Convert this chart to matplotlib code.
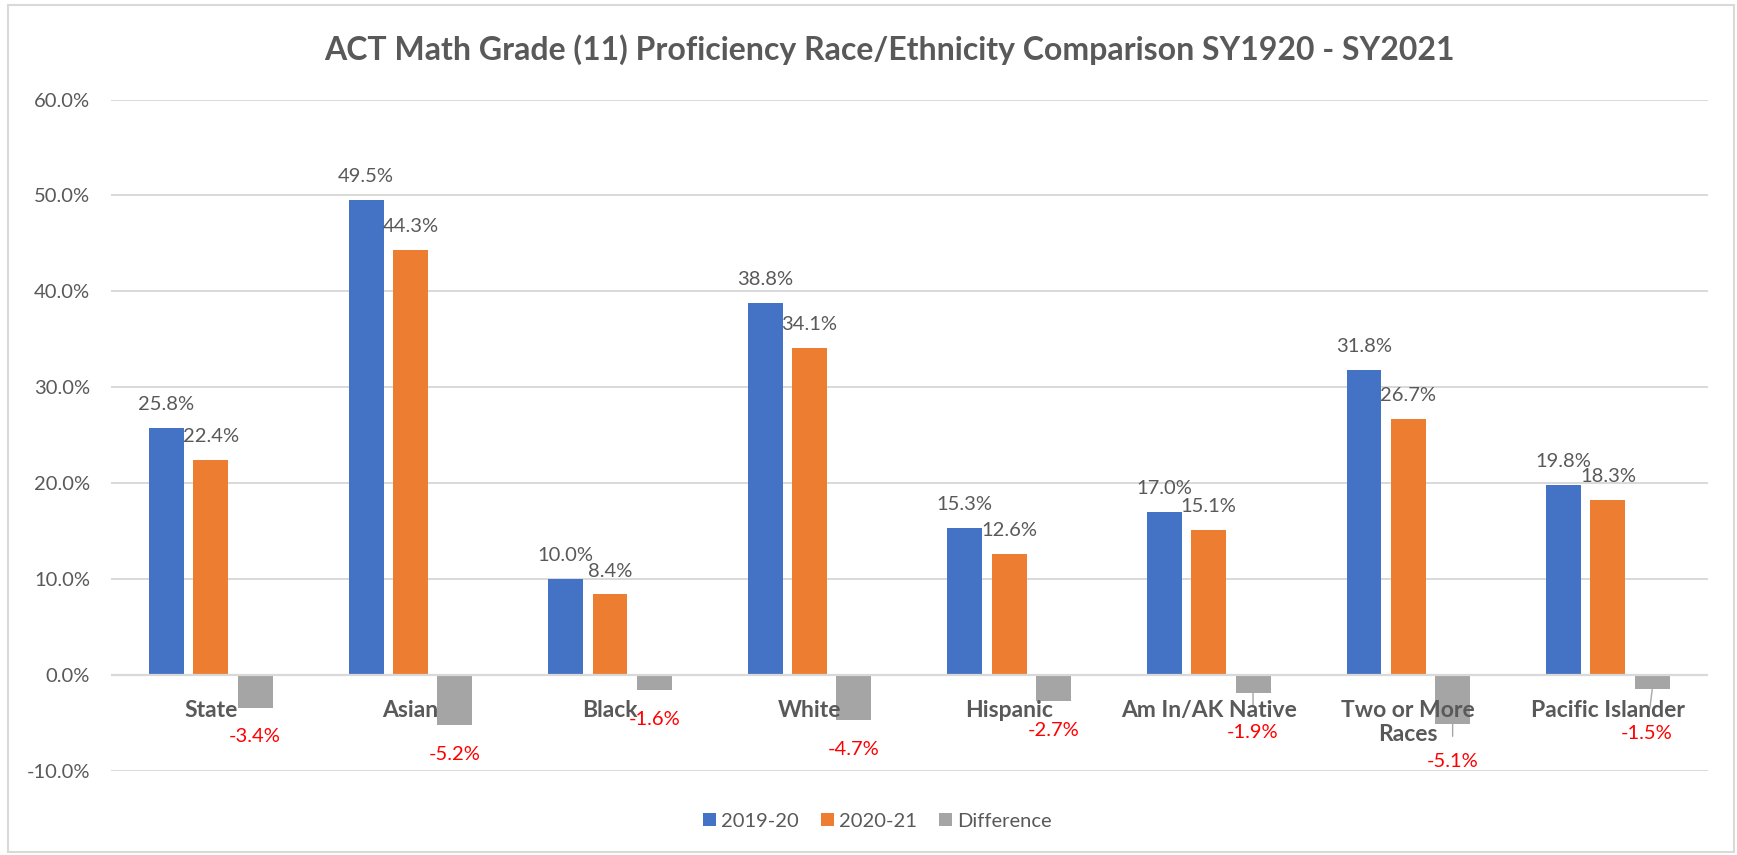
#!/usr/bin/env python3
from __future__ import annotations

import matplotlib

matplotlib.use("Agg")
import matplotlib.pyplot as plt
import numpy as np
from matplotlib.patches import Patch, Rectangle
from matplotlib.ticker import FuncFormatter

plt.rcParams["font.family"] = ["Lato", "DejaVu Sans"]

TITLE = "ACT Math Grade (11) Proficiency Race/Ethnicity Comparison SY1920 - SY2021"
CATEGORIES = [
    "State",
    "Asian",
    "Black",
    "White",
    "Hispanic",
    "Am In/AK Native",
    "Two or More\nRaces",
    "Pacific Islander",
]
SERIES_NAMES = ["2019-20", "2020-21", "Difference"]
VALUES_1920 = [0.258, 0.495, 0.100, 0.388, 0.153, 0.170, 0.318, 0.198]
VALUES_2021 = [0.224, 0.443, 0.084, 0.341, 0.126, 0.151, 0.267, 0.183]
DIFFERENCE = [-0.034, -0.052, -0.016, -0.047, -0.027, -0.019, -0.051, -0.015]
Y_TICKS = [-0.1, 0.0, 0.1, 0.2, 0.3, 0.4, 0.5, 0.6]

COLORS = ["#4472C4", "#ED7D31", "#A5A5A5"]
TEXT_GREY = "#595959"
GRID_GREY = "#D9D9D9"
LABEL_SIZE = 14.5

# manual placement of the (negative) difference labels, in points: (dx, dy, leader line)
DIFF_LABEL_OFFSETS = {
    0: (0, -21, False),
    1: (0, -21, False),
    2: (0, -21, False),
    3: (0, -21, False),
    4: (0, -21, False),
    5: (0, -28, True),
    6: (0, -27, True),
    7: (-4, -31.5, True),
}


def main() -> None:
    W, H = 1737, 855
    fig = plt.figure(figsize=(W / 100, H / 100), dpi=100)
    ax = fig.add_axes([111 / W, 1 - 771 / H, (1707.7 - 111) / W, (771 - 99.5) / H])

    x = np.arange(len(CATEGORIES))
    step = 0.222
    width = 0.175
    series = [VALUES_1920, VALUES_2021, DIFFERENCE]

    for k, (vals, color) in enumerate(zip(series, COLORS)):
        ax.bar(x + (k - 1) * step, vals, width=width, color=color, zorder=2)

    # positive value labels above bars
    for k in range(2):
        for xi, v in zip(x + (k - 1) * step, series[k]):
            ax.annotate(
                f"{v:.1%}",
                xy=(xi, v),
                xytext=(0, 16.8),
                textcoords="offset points",
                ha="center",
                va="center",
                fontsize=LABEL_SIZE,
                color=TEXT_GREY,
                zorder=4,
            )

    # difference labels below the grey bars
    for i, (xi, v) in enumerate(zip(x + step, DIFFERENCE)):
        dx, dy, leader = DIFF_LABEL_OFFSETS[i]
        arrow = None
        if leader:
            arrow = dict(arrowstyle="-", color="#A6A6A6", lw=1.0, shrinkA=10, shrinkB=0)
        ax.annotate(
            f"{v:.1%}",
            xy=(xi, v),
            xytext=(dx, dy),
            textcoords="offset points",
            ha="center",
            va="center",
            fontsize=LABEL_SIZE,
            color="#FF0000",
            arrowprops=arrow,
            zorder=4,
        )

    # category labels just under the zero line
    for xi, name in zip(x, CATEGORIES):
        ax.annotate(
            name,
            xy=(xi, 0),
            xytext=(0, -18),
            textcoords="offset points",
            ha="center",
            va="top",
            fontsize=16.5,
            fontweight="bold",
            color=TEXT_GREY,
            linespacing=1.2,
            zorder=4,
        )

    ax.set_xlim(-0.5, len(CATEGORIES) - 0.5)
    ax.set_ylim(-0.1, 0.6)
    ax.set_yticks(Y_TICKS)
    ax.yaxis.set_major_formatter(FuncFormatter(lambda v, _: f"{v:.1%}"))
    ax.set_xticks([])
    ax.tick_params(axis="y", length=0, pad=15, labelsize=LABEL_SIZE, labelcolor=TEXT_GREY)
    ax.grid(axis="y", color=GRID_GREY, lw=1.4, zorder=0)
    ax.axhline(0, color=GRID_GREY, lw=1.6, zorder=3)
    for spine in ax.spines.values():
        spine.set_visible(False)

    fig.text(
        889 / W,
        1 - 50 / H,
        TITLE,
        ha="center",
        va="center",
        fontsize=23,
        fontweight="bold",
        color=TEXT_GREY,
    )

    handles = [Patch(facecolor=c, edgecolor="none") for c in COLORS]
    fig.legend(
        handles,
        SERIES_NAMES,
        loc="center",
        bbox_to_anchor=(877 / W, 1 - 821 / H),
        ncol=3,
        frameon=False,
        fontsize=LABEL_SIZE,
        labelcolor=TEXT_GREY,
        handlelength=0.65,
        handleheight=0.65,
        handletextpad=0.25,
        columnspacing=1.1,
    )

    fig.patches.append(
        Rectangle(
            (8 / W, 1 - 852 / H),
            (1734 - 8) / W,
            (852 - 5) / H,
            transform=fig.transFigure,
            fill=False,
            edgecolor=GRID_GREY,
            lw=1.5,
        )
    )

    fig.savefig("out.png", dpi=100)
    plt.close(fig)


if __name__ == "__main__":
    main()
